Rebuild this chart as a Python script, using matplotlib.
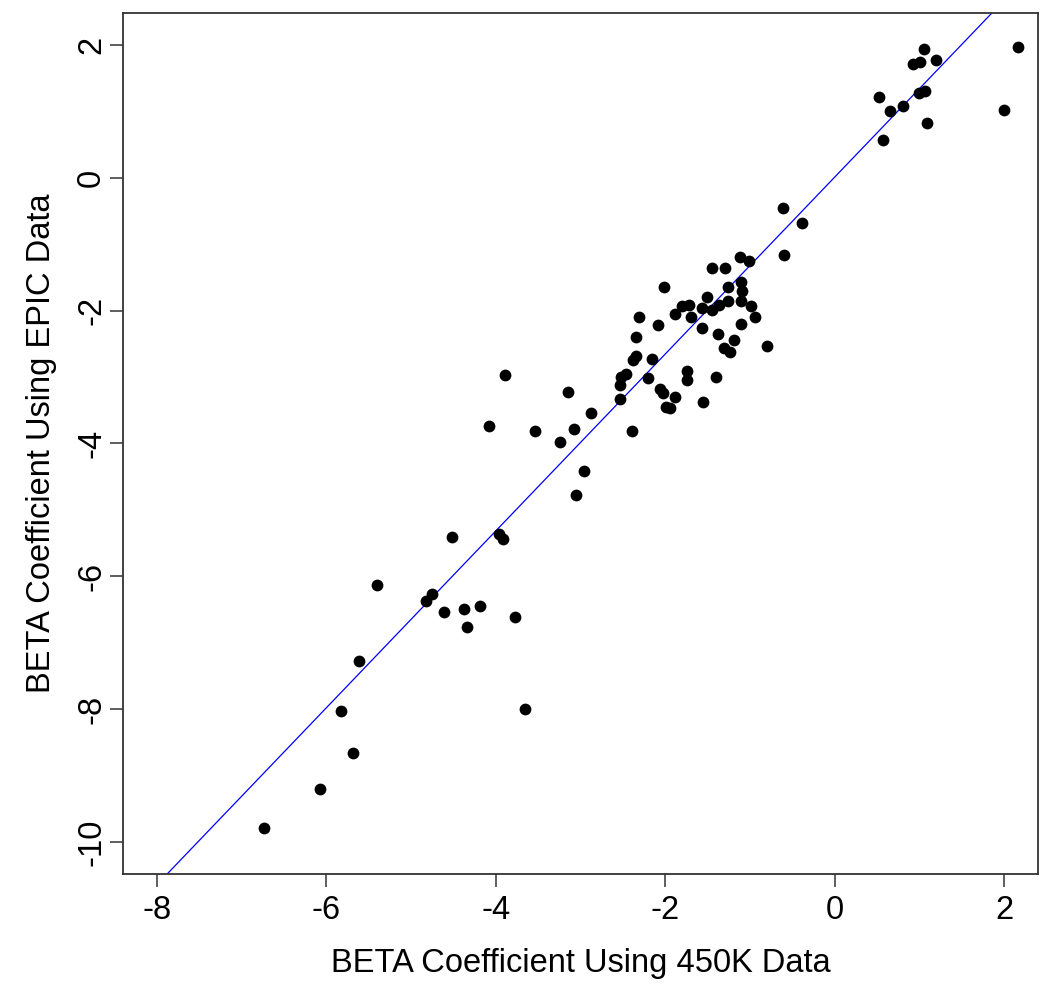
import matplotlib.pyplot as plt

plt.rcParams['font.family'] = ['Liberation Sans', 'DejaVu Sans']

# BETA coefficients: 450K (x) vs EPIC (y)
beta_450k = [
    1.056, 1.197, 0.925, 1.008, 2.166, 0.523, 0.992, 1.063, 0.811, 0.653,
    2.000, 1.087, 0.575,
    -0.608, -0.380, -0.596,
    -1.113, -1.010, -1.447, -1.290, -2.011, -1.101, -1.262, -1.089, -1.503,
    -1.802, -1.716, -1.566, -1.447, -1.361, -1.258, -1.104, -0.991, -1.881,
    -1.696, -0.935, -2.308, -2.079, -1.101, -1.571, -1.381, -1.184, -2.339,
    -1.302, -1.234, -0.793, -2.346, -2.374, -2.153, -2.457, -2.523, -2.535,
    -2.197, -1.743, -1.743, -1.405, -2.059, -2.031, -1.881, -2.535, -1.550,
    -1.996, -1.940, -2.874, -2.386,
    -3.888, -3.146, -4.081, -3.537, -3.079, -3.245, -2.961, -3.048, -4.518,
    -3.962, -3.919, -5.397, -4.746, -4.822, -4.613, -4.376, -4.191, -3.777,
    -4.341, -5.618, -5.822, -3.659, -5.680, -6.075, -6.737,
]
beta_epic = [
    1.937, 1.778, 1.718, 1.748, 1.974, 1.221, 1.270, 1.300, 1.079, 0.999,
    1.025, 0.818, 0.567,
    -0.448, -0.684, -1.156,
    -1.191, -1.251, -1.352, -1.362, -1.643, -1.563, -1.643, -1.698, -1.799,
    -1.925, -1.914, -1.959, -1.990, -1.910, -1.860, -1.849, -1.935, -2.056,
    -2.101, -2.101, -2.095, -2.211, -2.196, -2.267, -2.347, -2.442, -2.392,
    -2.562, -2.618, -2.527, -2.683, -2.739, -2.734, -2.954, -3.005, -3.115,
    -3.010, -2.915, -3.040, -2.995, -3.180, -3.246, -3.296, -3.337, -3.376,
    -3.457, -3.466, -3.542, -3.819,
    -2.969, -3.221, -3.733, -3.819, -3.778, -3.979, -4.411, -4.778, -5.402,
    -5.365, -5.432, -6.134, -6.270, -6.371, -6.537, -6.496, -6.441, -6.607,
    -6.758, -7.275, -8.024, -7.994, -8.662, -9.199, -9.797,
]

fit_intercept = 0.01
fit_slope = 1.332

x_ticks = [-8, -6, -4, -2, 0, 2]
y_ticks = [-10, -8, -6, -4, -2, 0, 2]

fig = plt.figure(figsize=(10.5, 9.93), dpi=100)
ax = fig.add_axes([0.117, 0.120, 0.8716, 0.8668])

ax.scatter(beta_450k, beta_epic, s=72, color='black', linewidths=0, zorder=3)
ax.axline((0, fit_intercept), slope=fit_slope, color='blue', lw=0.9, zorder=2)

ax.set_xlim(-8.4, 2.4)
ax.set_ylim(-10.48, 2.48)
ax.set_xticks(x_ticks)
ax.set_yticks(y_ticks)
ax.set_xticklabels([str(t) for t in x_ticks])
ax.set_yticklabels([str(t) for t in y_ticks], rotation=90, va='center')

ax.tick_params(axis='both', direction='out', length=9.4, width=1.1,
               color='#333333', labelsize=23.5)
ax.tick_params(axis='x', pad=6)
ax.tick_params(axis='y', pad=2)
for sp in ax.spines.values():
    sp.set_color('#333333')
    sp.set_linewidth(1.3)

ax.set_xlabel('BETA Coefficient Using 450K Data', fontsize=23.5, labelpad=16)
ax.set_ylabel('BETA Coefficient Using EPIC Data', fontsize=23.5, labelpad=14)

fig.savefig('out.png', dpi=100, facecolor='white')
